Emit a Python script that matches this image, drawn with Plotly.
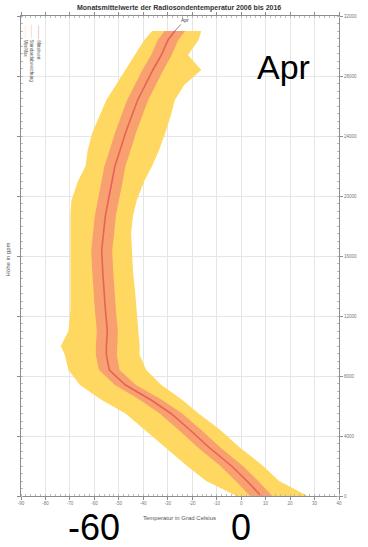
import plotly.graph_objects as go

# Radiosonde temperature profile, April monthly means 2006-2016
height_gpm = [0, 1000, 2000, 3250, 4400, 5500, 6400, 7400, 8400, 9400,
              10000, 11000, 12400, 13700, 15000, 16400, 17500, 18700, 19700, 21000,
              22000, 23000, 24200, 25400, 26400, 27400, 28400, 29400, 30400, 31000]
temp_mean = [8.2, 2.4, -3.9, -13.2, -20.9, -28.7, -36.8, -47.3, -53.9, -55.1,
             -55.1, -54.7, -55.5, -56.2, -56.6, -57.0, -56.2, -55.5, -54.3, -52.7,
             -51.6, -49.6, -47.3, -44.6, -42.3, -39.2, -36.1, -32.6, -29.9, -27.1]
temp_std = [4.6, 4.6, 4.6, 4.6, 4.6, 4.6, 4.5, 4.3, 4.2, 4.3,
            4.3, 4.3, 4.3, 4.3, 4.3, 4.3, 4.3, 4.3, 4.3, 4.3,
            4.3, 4.3, 4.3, 4.3, 4.3, 4.3, 4.3, 4.2, 4.2, 4.2]
temp_min = [-1.9, -14.3, -22.1, -31.0, -39.6, -47.3, -57.0, -65.9, -70.6, -72.1,
            -73.7, -70.6, -69.8, -69.8, -69.8, -69.8, -69.8, -69.8, -69.4, -66.7,
            -63.6, -62.8, -60.9, -57.8, -55.1, -51.2, -47.3, -43.4, -39.6, -36.4]
temp_max = [27.2, 15.5, 9.0, -0.7, -8.5, -17.4, -24.0, -32.6, -38.8, -41.5,
            -41.5, -41.9, -42.7, -43.4, -44.2, -44.6, -45.0, -44.2, -42.7, -39.6,
            -36.4, -33.7, -31.0, -28.7, -27.1, -23.3, -16.3, -21.7, -17.4, -16.3]

x_ticks = list(range(-90, 41, 10))
y_ticks = list(range(0, 32001, 4000))

YELLOW = "#FFD862"
ORANGE = "#F8A070"
RED = "#E8615A"
GRID = "#E6E6E6"
AXIS = "#8C8C8C"
FONT = "Liberation Sans"

std_lo = [m - s for m, s in zip(temp_mean, temp_std)]
std_hi = [m + s for m, s in zip(temp_mean, temp_std)]

fig = go.Figure()

# Min/max envelope
fig.add_trace(go.Scatter(
    x=temp_min + temp_max[::-1], y=height_gpm + height_gpm[::-1],
    fill="toself", fillcolor=YELLOW, line=dict(width=0),
    mode="lines", hoverinfo="skip", showlegend=False))

# Mean +/- one standard deviation
fig.add_trace(go.Scatter(
    x=std_lo + std_hi[::-1], y=height_gpm + height_gpm[::-1],
    fill="toself", fillcolor=ORANGE, line=dict(width=0),
    mode="lines", hoverinfo="skip", showlegend=False))

# Mean profile
fig.add_trace(go.Scatter(
    x=temp_mean, y=height_gpm, mode="lines",
    line=dict(color=RED, width=1.6), showlegend=False))

annotations = [
    dict(text="<b>Monatsmittelwerte der Radiosondentemperatur 2006 bis 2016</b>",
         xref="paper", yref="paper", x=0.497, y=1.017, showarrow=False,
         font=dict(family=FONT, size=7, color="#333333"),
         xanchor="center", yanchor="middle"),
    dict(text="Temperatur in Grad Celsius", xref="paper", yref="paper",
         x=0.497, y=-0.046, showarrow=False,
         font=dict(family=FONT, size=6, color="#555555"),
         xanchor="center", yanchor="middle"),
    dict(text="Höhe in gpm", xref="paper", yref="paper",
         x=-0.042, y=0.492, textangle=-90, showarrow=False,
         font=dict(family=FONT, size=6, color="#555555"),
         xanchor="center", yanchor="middle"),
    # month marker at the top of the profile
    dict(text="Apr", x=temp_mean[-1], y=height_gpm[-1], xref="x", yref="y",
         showarrow=True, arrowhead=0, arrowwidth=0.8, arrowcolor="#666666",
         ax=10, ay=-11, font=dict(family=FONT, size=5, color="#444444")),
    dict(text="Apr", xref="paper", yref="paper", x=0.824, y=0.894,
         showarrow=False, font=dict(family=FONT, size=34, color="black"),
         xanchor="center", yanchor="middle"),
    dict(text="-60", xref="x", yref="paper", x=-60, y=-0.066,
         showarrow=False, font=dict(family=FONT, size=36, color="black"),
         xanchor="center", yanchor="middle"),
    dict(text="0", xref="x", yref="paper", x=0, y=-0.066,
         showarrow=False, font=dict(family=FONT, size=36, color="black"),
         xanchor="center", yanchor="middle"),
]

# Vertical legend entries in the upper left corner
legend_items = [("Min/Max", YELLOW), ("Standardabweichung", ORANGE), ("Mittelwert", RED)]
for i, (label, col) in enumerate(legend_items):
    annotations.append(dict(
        text=f"<span style='color:{col}'>———</span> {label}",
        xref="paper", yref="paper", x=0.012 + i * 0.021, y=0.985,
        textangle=90, showarrow=False, xanchor="center", yanchor="top",
        font=dict(family=FONT, size=4.5, color="#555555")))

fig.update_layout(
    width=368, height=547,
    margin=dict(l=21, r=11, t=16, b=51),
    paper_bgcolor="white", plot_bgcolor="white",
    font=dict(family=FONT, size=5, color="#666666"),
    annotations=annotations,
    xaxis=dict(range=[-90, 40], tickvals=x_ticks, ticktext=[str(v) for v in x_ticks],
               showgrid=True, gridcolor=GRID, gridwidth=1, zeroline=False,
               showline=True, linecolor=AXIS, linewidth=1, mirror="allticks",
               ticks="outside", ticklen=3, tickcolor=AXIS,
               tickfont=dict(size=4.5, color="#777777"),
               minor=dict(ticks="inside", ticklen=2, dtick=2, tickcolor="#BBBBBB")),
    yaxis=dict(range=[0, 32000], tickvals=y_ticks, ticktext=[str(v) for v in y_ticks],
               side="right", showgrid=True, gridcolor=GRID, gridwidth=1, zeroline=False,
               showline=True, linecolor=AXIS, linewidth=1, mirror="allticks",
               ticks="outside", ticklen=3, tickcolor=AXIS,
               tickfont=dict(size=4.5, color="#777777"),
               minor=dict(ticks="inside", ticklen=2, dtick=500, tickcolor="#BBBBBB")),
)

fig.write_html("out.html")
